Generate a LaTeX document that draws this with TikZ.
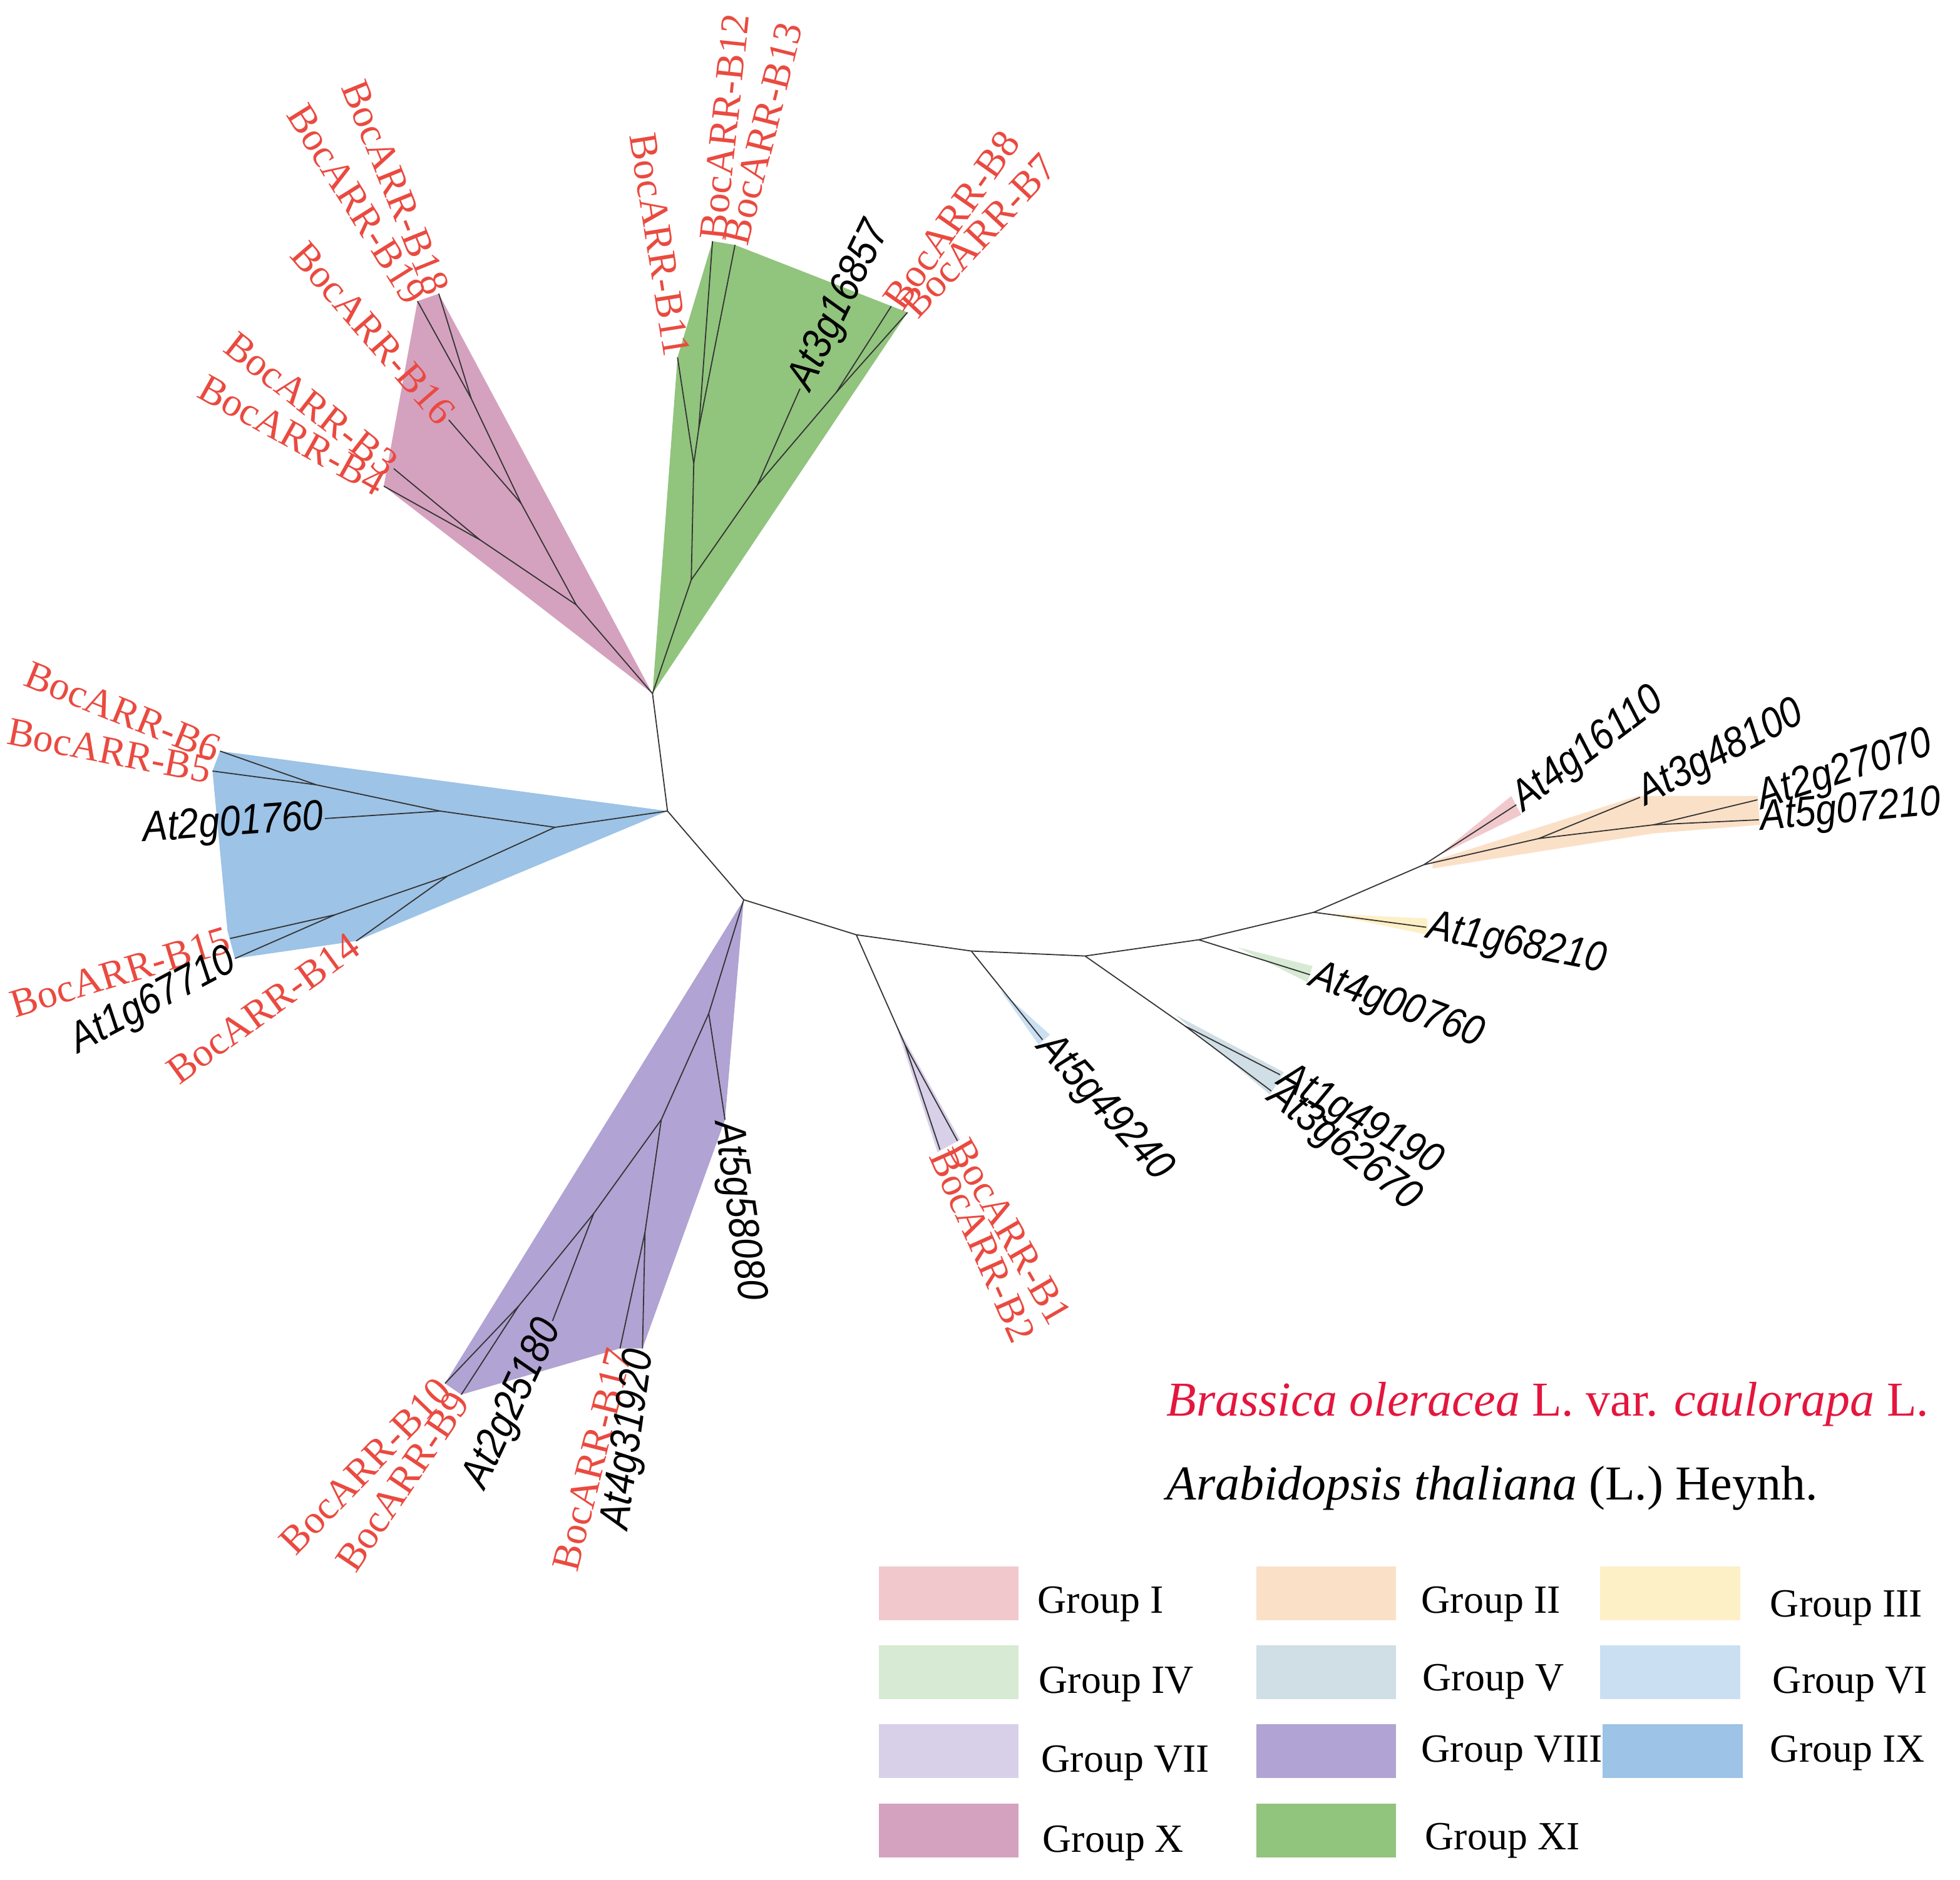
\documentclass[tikz,border=0pt]{standalone}
\usepackage{fontspec}
\setmainfont{Liberation Serif}
\newfontfamily\atfont[FakeStretch=0.88]{Liberation Sans}
\definecolor{bocred}{RGB}{234,74,64}
\definecolor{specred}{RGB}{228,22,62}
\definecolor{grpI}{RGB}{241,201,204}
\definecolor{grpII}{RGB}{251,224,200}
\definecolor{grpIII}{RGB}{254,240,198}
\definecolor{grpIV}{RGB}{215,234,211}
\definecolor{grpV}{RGB}{208,222,229}
\definecolor{grpVI}{RGB}{203,223,242}
\definecolor{grpVII}{RGB}{216,208,232}
\definecolor{grpVIII}{RGB}{177,163,211}
\definecolor{grpIX}{RGB}{157,195,230}
\definecolor{grpX}{RGB}{212,162,190}
\definecolor{grpXI}{RGB}{145,196,125}

\begin{document}
\begin{tikzpicture}[x=1pt,y=-1pt,
  branch/.style={draw=black!80,line width=0.9pt},
  boc/.style={text=bocred,font=\fontsize{32}{32}\selectfont,inner sep=1pt},
  atg/.style={text=black,font=\atfont\itshape\fontsize{34}{34}\selectfont,inner sep=1pt},
  keybox/.style={minimum width=112pt,minimum height=43pt,inner sep=0pt,draw=none},
  keytext/.style={font=\fontsize{32}{32}\selectfont,anchor=base west,inner sep=0pt}]
\useasboundingbox (0,0) rectangle (1568,1504);
%backbone nodes
\coordinate (r1) at (522,555);
\coordinate (r2) at (534,649);
\coordinate (r3) at (595,720);
\coordinate (n7) at (685,748);
\coordinate (n6) at (777,761);
\coordinate (n5) at (868,765);
\coordinate (n4) at (959,752);
\coordinate (n3) at (1051,730);
\coordinate (n12) at (1139,692);
%Group X
\coordinate (x1) at (461,484);
\coordinate (x34) at (384,432);
\coordinate (x2) at (417,403);
\coordinate (x3) at (377,319);
\coordinate (tB4) at (307,389);
\coordinate (tB3) at (315,375);
\coordinate (tB16) at (359,336);
\coordinate (tB19) at (334,241);
\coordinate (tB18) at (351,235);
%Group XI
\coordinate (g1) at (553,464);
\coordinate (g2) at (555,371);
\coordinate (g5) at (559,343);
\coordinate (g3) at (606,388);
\coordinate (g4) at (669,314);
\coordinate (tB11) at (542,286);
\coordinate (tB12) at (570,193);
\coordinate (tB13) at (588,196);
\coordinate (tAt3g16857) at (640,311);
\coordinate (tB8) at (713,245);
\coordinate (tB7) at (726,250);
%Group IX
\coordinate (l1) at (444,662);
\coordinate (u1) at (352,649);
\coordinate (u2) at (253,628);
\coordinate (l3) at (358,701);
\coordinate (l4) at (268,732);
\coordinate (tB6) at (176,601);
\coordinate (tB5) at (170,617);
\coordinate (tAt2g01760) at (260,655);
\coordinate (tB15) at (184,751);
\coordinate (tAt1g67710) at (188,767);
\coordinate (tB14) at (285,753);
%Group VIII
\coordinate (v1) at (567,811);
\coordinate (v2) at (529,896);
\coordinate (v3) at (516,986);
\coordinate (v4) at (475,971);
\coordinate (v5) at (415,1045);
\coordinate (tAt5g58080) at (580,896);
\coordinate (tB17) at (496,1079);
\coordinate (tAt4g31920) at (514,1079);
\coordinate (tAt2g25180) at (442,1057);
\coordinate (tB10) at (356,1107);
\coordinate (tB9) at (369,1116);
%Groups I--VII
\coordinate (s7) at (724,836);
\coordinate (tB1) at (766,913);
\coordinate (tB2) at (752,920);
\coordinate (tAt5g49240) at (834,832);
\coordinate (s5) at (948,821);
\coordinate (tAt1g49190) at (1024,860);
\coordinate (tAt3g62670) at (1017,873);
\coordinate (tAt4g00760) at (1048,780);
\coordinate (tAt1g68210) at (1141,742);
\coordinate (tAt4g16110) at (1213,644);
\coordinate (nII) at (1231,671);
\coordinate (nII2) at (1323,660);
\coordinate (tAt3g48100) at (1312,638);
\coordinate (tAt2g27070) at (1406,640);
\coordinate (tAt5g07210) at (1407,656);

%Shape: Polygon
\fill[grpX] (r1) -- (tB4) -- (tB19) -- (tB18) -- cycle;
%Shape: Polygon
\fill[grpXI] (r1) -- (tB11) -- (tB12) -- (tB13) -- (tB7) -- cycle;
%Shape: Polygon
\fill[grpIX] (r2) -- (tB6) -- (tB5) -- (182,745) -- (tAt1g67710) -- (tB14) -- cycle;
%Shape: Polygon
\fill[grpVIII] (r3) -- (tB10) -- (tB9) -- (tB17) -- (tAt4g31920) -- (tAt5g58080) -- cycle;
%Shape: Polygon
\fill[grpVII] (716,818) -- (750,922) -- (768,912) -- cycle;
%Shape: Polygon
\fill[grpVI] (800,792) -- (831,836) -- (840,828) -- cycle;
%Shape: Polygon
\fill[grpV] (940,812) -- (1016,876) -- (1027,858) -- cycle;
%Shape: Polygon
\fill[grpIV] (990,758) -- (1046,786) -- (1050,773) -- cycle;
%Shape: Polygon
\fill[grpIII] (1060,731) -- (1142,748) -- (1142,735) -- cycle;
%Shape: Polygon
\fill[grpI] (1150,685) -- (1209,637) -- (1217,652) -- cycle;
%Shape: Polygon
\fill[grpII] (1146,689) -- (1310,637) -- (1406,637) -- (1408,660) -- (1322,667) -- (1146,695) -- cycle;

%Straight Lines
\draw[branch] (r1) -- (r2) -- (r3) -- (n7) -- (n6) -- (n5) -- (n4) -- (n3) -- (n12);
%Straight Lines
\draw[branch] (r1) -- (x1) -- (x34) -- (tB4);
\draw[branch] (x34) -- (tB3);
\draw[branch] (x1) -- (x2) -- (tB16);
\draw[branch] (x2) -- (x3) -- (tB19);
\draw[branch] (x3) -- (tB18);
%Straight Lines
\draw[branch] (r1) -- (g1) -- (g2) -- (tB11);
\draw[branch] (g2) -- (g5) -- (tB12);
\draw[branch] (g5) -- (tB13);
\draw[branch] (g1) -- (g3) -- (tAt3g16857);
\draw[branch] (g3) -- (g4) -- (tB8);
\draw[branch] (g4) -- (tB7);
%Straight Lines
\draw[branch] (r2) -- (l1) -- (u1) -- (u2) -- (tB6);
\draw[branch] (u2) -- (tB5);
\draw[branch] (u1) -- (tAt2g01760);
\draw[branch] (l1) -- (l3) -- (l4) -- (tB15);
\draw[branch] (l4) -- (tAt1g67710);
\draw[branch] (l3) -- (tB14);
%Straight Lines
\draw[branch] (r3) -- (v1) -- (tAt5g58080);
\draw[branch] (v1) -- (v2) -- (v3) -- (tAt4g31920);
\draw[branch] (v3) -- (tB17);
\draw[branch] (v2) -- (v4) -- (tAt2g25180);
\draw[branch] (v4) -- (v5) -- (tB10);
\draw[branch] (v5) -- (tB9);
%Straight Lines
\draw[branch] (n7) -- (s7) -- (tB1);
\draw[branch] (s7) -- (tB2);
\draw[branch] (n6) -- (tAt5g49240);
\draw[branch] (n5) -- (s5) -- (tAt1g49190);
\draw[branch] (s5) -- (tAt3g62670);
\draw[branch] (n4) -- (tAt4g00760);
\draw[branch] (n3) -- (tAt1g68210);
\draw[branch] (n12) -- (tAt4g16110);
\draw[branch] (n12) -- (nII) -- (tAt3g48100);
\draw[branch] (nII) -- (nII2) -- (tAt2g27070);
\draw[branch] (nII2) -- (tAt5g07210);

% Text Node
\node[boc,anchor=east,rotate=-29] (lB4) at (tB4) {BocARR-B4};
\node[boc,anchor=east,rotate=-38] (lB3) at (tB3) {BocARR-B3};
\node[boc,anchor=east,rotate=-49] (lB16) at (tB16) {BocARR-B16};
\node[boc,anchor=east,rotate=-58] (lB19) at (tB19) {BocARR-B19};
\node[boc,anchor=east,rotate=-68] (lB18) at (tB18) {BocARR-B18};
% Text Node
\node[boc,anchor=east,rotate=-81] (lB11) at (tB11) {BocARR-B11};
\node[boc,anchor=west,rotate=84] (lB12) at (tB12) {BocARR-B12};
\node[boc,anchor=west,rotate=76] (lB13) at (tB13) {BocARR-B13};
\node[atg,anchor=west,rotate=64] (lAt3g16857) at (tAt3g16857) {At3g16857};
\node[boc,anchor=west,rotate=55] (lB8) at (tB8) {BocARR-B8};
\node[boc,anchor=west,rotate=47] (lB7) at (tB7) {BocARR-B7};
% Text Node
\node[boc,anchor=east,rotate=-22] (lB6) at (tB6) {BocARR-B6};
\node[boc,anchor=east,rotate=-11] (lB5) at (tB5) {BocARR-B5};
\node[atg,anchor=east,rotate=4] (lAt2g01760) at (tAt2g01760) {At2g01760};
\node[boc,anchor=east,rotate=17] (lB15) at (tB15) {BocARR-B15};
\node[atg,anchor=east,rotate=28] (lAt1g67710) at (tAt1g67710) {At1g67710};
\node[boc,anchor=east,rotate=36] (lB14) at (tB14) {BocARR-B14};
% Text Node
\node[boc,anchor=east,rotate=46] (lB10) at (tB10) {BocARR-B10};
\node[boc,anchor=east,rotate=56] (lB9) at (tB9) {BocARR-B9};
\node[atg,anchor=east,rotate=65] (lAt2g25180) at (tAt2g25180) {At2g25180};
\node[boc,anchor=east,rotate=76] (lB17) at (tB17) {BocARR-B17};
\node[atg,anchor=east,rotate=82] (lAt4g31920) at (tAt4g31920) {At4g31920};
\node[atg,anchor=west,rotate=-82] (lAt5g58080) at (tAt5g58080) {At5g58080};
% Text Node
\node[boc,anchor=west,rotate=-60] (lB1) at (tB1) {BocARR-B1};
\node[boc,anchor=west,rotate=-66] (lB2) at (tB2) {BocARR-B2};
\node[atg,anchor=west,rotate=-48] (lAt5g49240) at (tAt5g49240) {At5g49240};
\node[atg,anchor=west,rotate=-30] (lAt1g49190) at (tAt1g49190) {At1g49190};
\node[atg,anchor=west,rotate=-38] (lAt3g62670) at (tAt3g62670) {At3g62670};
\node[atg,anchor=west,rotate=-20] (lAt4g00760) at (tAt4g00760) {At4g00760};
\node[atg,anchor=west,rotate=-11] (lAt1g68210) at (tAt1g68210) {At1g68210};
\node[atg,anchor=west,rotate=37] (lAt4g16110) at (tAt4g16110) {At4g16110};
\node[atg,anchor=west,rotate=28] (lAt3g48100) at (tAt3g48100) {At3g48100};
\node[atg,anchor=west,rotate=18] (lAt2g27070) at (tAt2g27070) {At2g27070};
\node[atg,anchor=west,rotate=5] (lAt5g07210) at (tAt5g07210) {At5g07210};

% Text Node
\node[anchor=base west,inner sep=0pt,text=specred,font=\fontsize{39}{39}\selectfont] (spBoc) at (933,1133) {\textit{Brassica oleracea} L. var. \textit{caulorapa} L.};
\node[anchor=base west,inner sep=0pt,font=\fontsize{39}{39}\selectfont] (spAt) at (933,1200) {\textit{Arabidopsis thaliana} (L.) Heynh.};

%Legend
\node[keybox,fill=grpI] (kI) at (759,1275) {};
\node[keybox,fill=grpII] (kII) at (1061,1275) {};
\node[keybox,fill=grpIII] (kIII) at (1336,1275) {};
\node[keybox,fill=grpIV] (kIV) at (759,1338) {};
\node[keybox,fill=grpV] (kV) at (1061,1338) {};
\node[keybox,fill=grpVI] (kVI) at (1336,1338) {};
\node[keybox,fill=grpVII] (kVII) at (759,1401) {};
\node[keybox,fill=grpVIII] (kVIII) at (1061,1401) {};
\node[keybox,fill=grpIX] (kIX) at (1338,1401) {};
\node[keybox,fill=grpX] (kX) at (759,1465) {};
\node[keybox,fill=grpXI] (kXI) at (1061,1465) {};
% Text Node
\node[keytext] (gI) at (830,1291) {Group I};
\node[keytext] (gII) at (1137,1291) {Group II};
\node[keytext] (gIII) at (1416,1294) {Group III};
\node[keytext] (gIV) at (831,1355) {Group IV};
\node[keytext] (gV) at (1138,1353) {Group V};
\node[keytext] (gVI) at (1418,1355) {Group VI};
\node[keytext] (gVII) at (833,1418) {Group VII};
\node[keytext] (gVIII) at (1137,1410) {Group VIII};
\node[keytext] (gIX) at (1416,1410) {Group IX};
\node[keytext] (gX) at (834,1482) {Group X};
\node[keytext] (gXI) at (1140,1480) {Group XI};
\end{tikzpicture}
\end{document}
